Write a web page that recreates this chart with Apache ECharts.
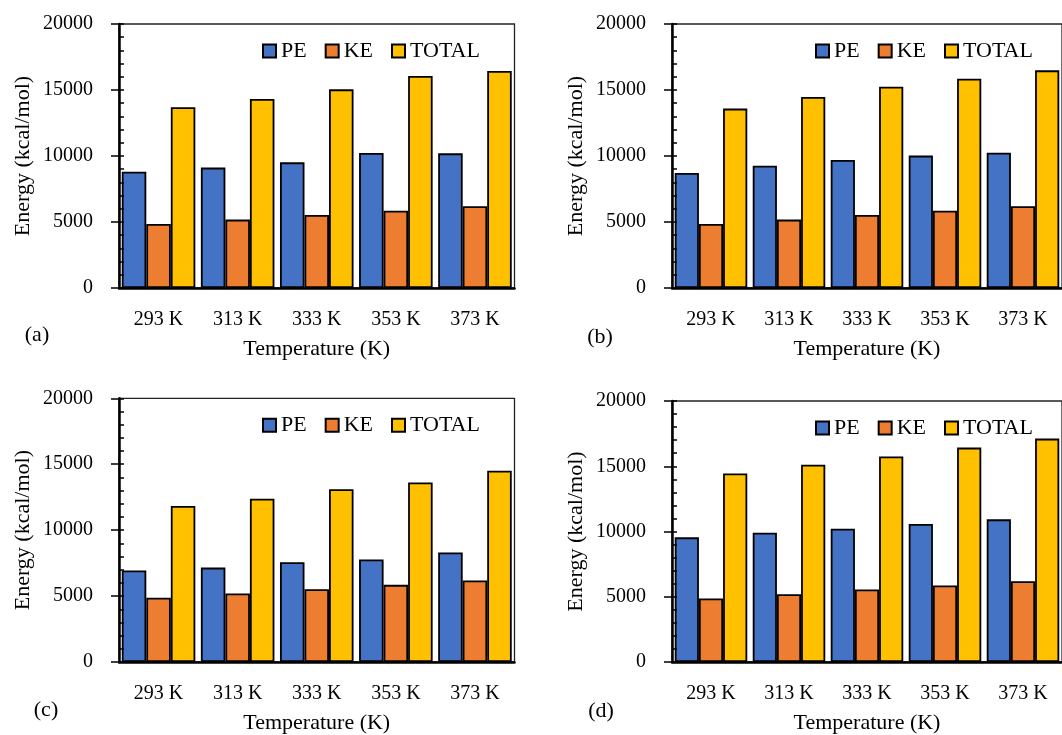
<!DOCTYPE html>
<html>
<head>
<meta charset="utf-8">
<script src="https://cdn.jsdelivr.net/npm/echarts@6/dist/echarts.min.js"></script>
<style>
html,body{margin:0;padding:0;background:#fff;}
#chart{width:1062px;height:735px;}
</style>
</head>
<body>
<div id="chart"></div>
<script>
const categories = ['293 K', '313 K', '333 K', '353 K', '373 K'];
const seriesNames = ['PE', 'KE', 'TOTAL'];
const yTicks = [0, 5000, 10000, 15000, 20000];

const a_PE = [8810, 9120, 9520, 10230, 10200];
const a_KE = [4850, 5180, 5530, 5860, 6190];
const a_TOTAL = [13690, 14320, 15050, 16060, 16440];

const b_PE = [8710, 9270, 9700, 10030, 10250];
const b_KE = [4850, 5180, 5530, 5860, 6190];
const b_TOTAL = [13590, 14470, 15250, 15860, 16490];

const c_PE = [6940, 7160, 7570, 7770, 8300];
const c_KE = [4870, 5200, 5520, 5850, 6180];
const c_TOTAL = [11830, 12380, 13110, 13620, 14500];

const d_PE = [9550, 9910, 10220, 10570, 10930];
const d_KE = [4870, 5200, 5550, 5860, 6190];
const d_TOTAL = [14450, 15110, 15750, 16430, 17120];

const panelLabels = ['(a)', '(b)', '(c)', '(d)'];
const xTitle = 'Temperature (K)';
const yTitle = 'Energy (kcal/mol)';

const panelData = [
  [a_PE, a_KE, a_TOTAL],
  [b_PE, b_KE, b_TOTAL],
  [c_PE, c_KE, c_TOTAL],
  [d_PE, d_KE, d_TOTAL]
];

const colors = ['#4472C4', '#ED7D31', '#FFC000'];
const FONT = "'Liberation Serif', 'Times New Roman', serif";

const grids = [
  {left: 119, top: 24, width: 395.5, height: 264},
  {left: 672, top: 24, width: 395.5, height: 264},
  {left: 119, top: 398.3, width: 395.5, height: 264.4},
  {left: 672, top: 401, width: 395.5, height: 261.7}
];
const labelPos = [[37, 335], [600, 337], [46, 710], [601, 711]];

const option = {
  animation: false,
  backgroundColor: '#fff',
  textStyle: {fontFamily: FONT, color: '#000'},
  grid: grids.map(g => Object.assign({show: true, borderColor: '#222', borderWidth: 1.3, backgroundColor: 'transparent', containLabel: false}, g)),
  xAxis: [],
  yAxis: [],
  legend: [],
  series: [],
  graphic: []
};

grids.forEach((g, i) => {
  option.xAxis.push({
    type: 'category', gridIndex: i, data: categories,
    axisLine: {show: true, lineStyle: {color: '#000', width: 2.5}},
    axisTick: {show: false},
    axisLabel: {fontSize: 20, fontFamily: FONT, color: '#000', margin: 22},
    name: xTitle, nameLocation: 'middle', nameGap: 50,
    nameTextStyle: {fontSize: 22, fontFamily: FONT, color: '#000'}
  });
  option.yAxis.push({
    type: 'value', gridIndex: i, min: yTicks[0], max: yTicks[yTicks.length - 1], interval: 5000,
    position: 'left',
    axisLine: {show: true, lineStyle: {color: '#000', width: 2.5}},
    axisTick: {show: true, inside: false, length: 8, lineStyle: {color: '#000', width: 1.5}},
    splitLine: {show: false},
    axisLabel: {fontSize: 20, fontFamily: FONT, color: '#000', margin: 26, formatter: v => String(v)},
    name: yTitle, nameLocation: 'middle', nameGap: 85,
    nameTextStyle: {fontSize: 22, fontFamily: FONT, color: '#000'}
  });
  option.yAxis.push({
    type: 'value', gridIndex: i, min: yTicks[0], max: yTicks[yTicks.length - 1], interval: 5000,
    position: 'left', z: 10,
    axisLine: {show: false},
    axisTick: {show: true, inside: true, length: 5, lineStyle: {color: '#000', width: 1.5}},
    minorTick: {show: true, splitNumber: 5, length: 5, lineStyle: {color: '#000', width: 1.5}},
    splitLine: {show: false},
    axisLabel: {show: false}
  });
  option.legend.push({
    data: seriesNames,
    left: g.left + 143, top: g.top + 16,
    orient: 'horizontal', padding: 0,
    itemWidth: 13, itemHeight: 13, itemGap: 18,
    icon: 'rect',
    textStyle: {fontSize: 22, fontFamily: FONT, color: '#000', padding: [2, 0, 0, 0]}
  });
  seriesNames.forEach((nm, s) => {
    option.series.push({
      type: 'bar', name: nm, xAxisIndex: i, yAxisIndex: 2 * i,
      data: panelData[i][s],
      barGap: '0%', barCategoryGap: '7%',
      itemStyle: {color: colors[s], borderColor: '#000', borderWidth: 1.8}
    });
  });
  option.graphic.push({
    type: 'text', x: labelPos[i][0], y: labelPos[i][1],
    style: {text: panelLabels[i], font: '22px ' + FONT, fill: '#000', textAlign: 'center', textVerticalAlign: 'middle'}
  });
});

const chart = echarts.init(document.getElementById('chart'), null, {renderer: 'canvas'});
chart.setOption(option);
</script>
</body>
</html>
